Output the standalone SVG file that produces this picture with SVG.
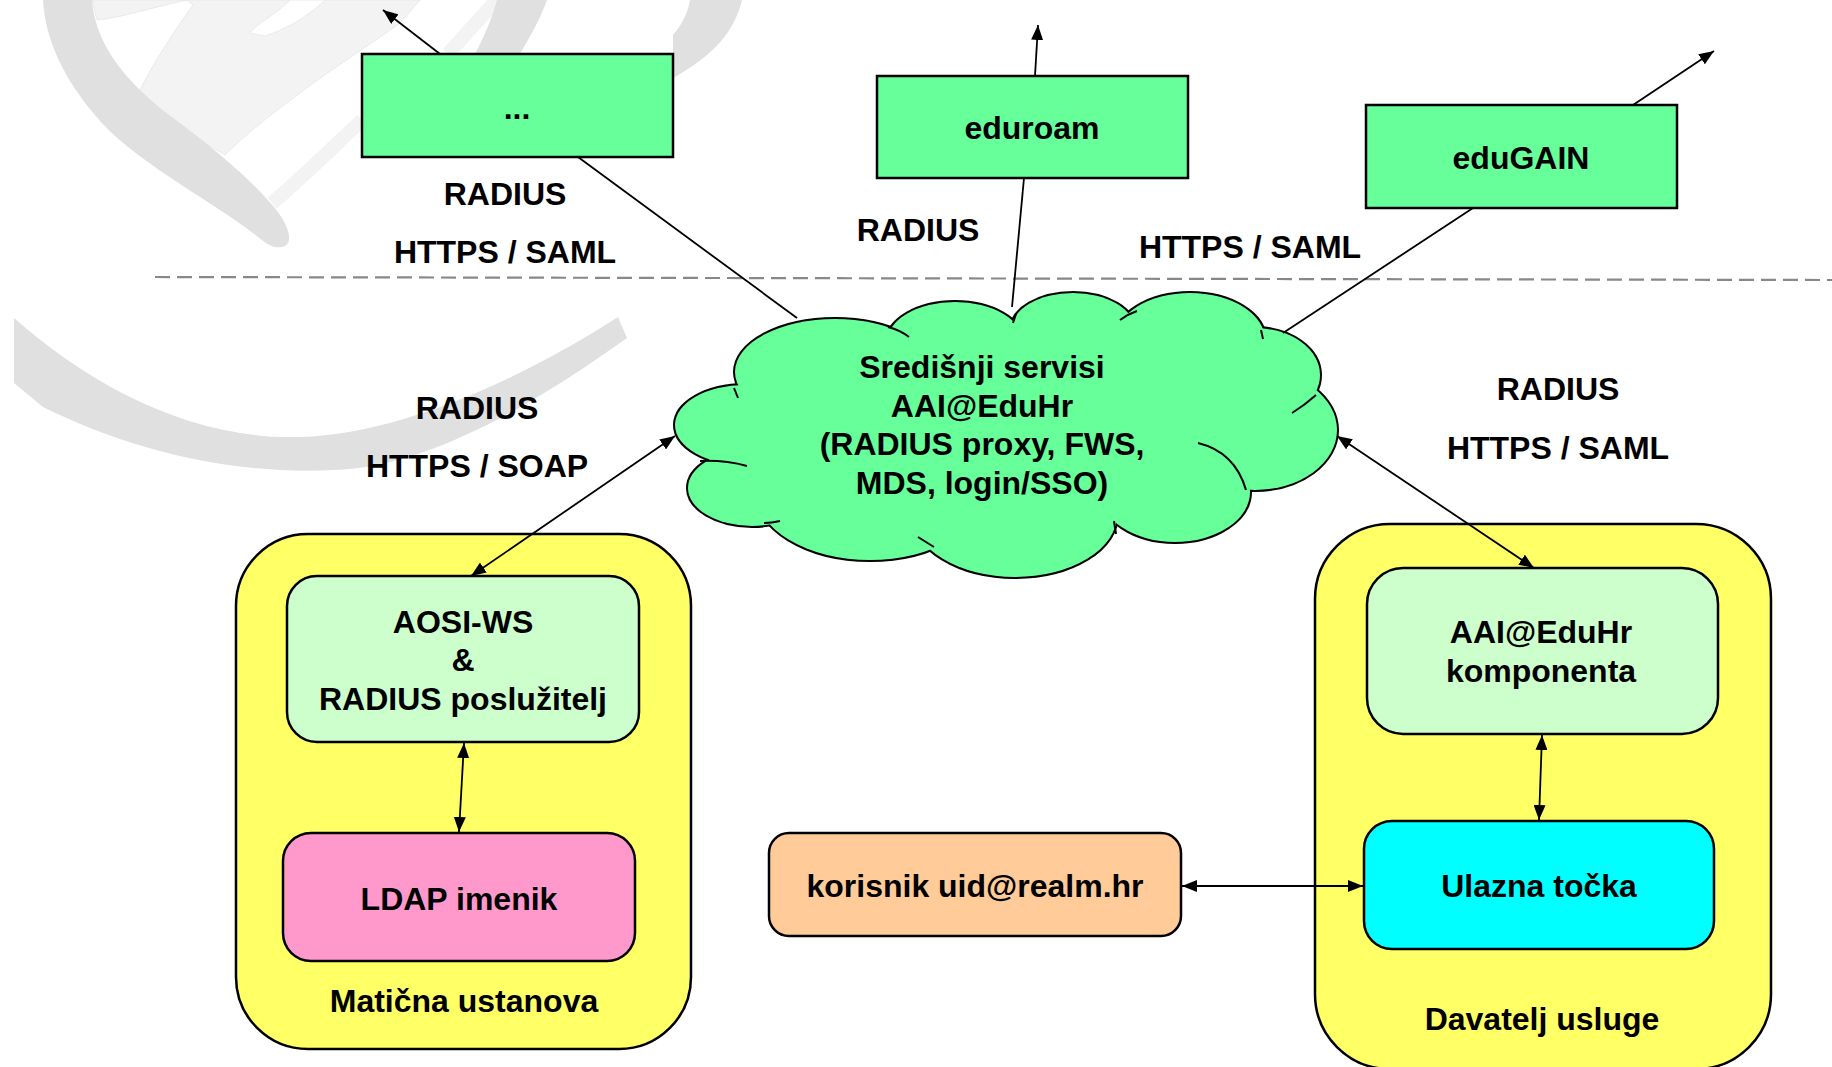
<svg xmlns="http://www.w3.org/2000/svg" width="1832" height="1067" viewBox="0 0 1832 1067">
<defs>
<style>
.t{font-family:"Liberation Sans",Arial,Helvetica,sans-serif;font-weight:bold;font-size:32px;text-anchor:middle;fill:#000}
.box{stroke:#000;stroke-width:2.5}
.conn{stroke:#000;stroke-width:1.8;fill:none}
.wm{fill:#e0e0e0}
.wl{fill:#f3f3f3;stroke:#e6e6e6;stroke-width:0.8}
</style>
<marker id="ah" viewBox="0 0 15 12" refX="15" refY="6" markerWidth="15" markerHeight="12" markerUnits="userSpaceOnUse" orient="auto-start-reverse">
<path d="M0,0 L15,6 L0,12 Z" fill="#000"/>
</marker>
</defs>
<rect width="1832" height="1067" fill="#fff"/>

<g id="watermark">
<path class="wl" d="M92,0 L187,0 C150,8 120,18 97,20 Z"/>
<path class="wl" d="M187,0 L420,0 L400,23 C370,45 330,70 300,93 C270,115 245,135 225,155 L200,140 C175,122 150,105 140,90 C155,60 175,30 193,5 Z"/>
<path d="M250,33 C255,25 275,15 290,0 L325,0 C310,15 285,30 265,36 Z" fill="#fff" stroke="#e6e6e6" stroke-width="0.8"/>
<path d="M272,203 C300,180 330,150 362,120" stroke="#f3f3f3" stroke-width="14" fill="none"/>
<path d="M448,54 C465,35 480,18 497,0" stroke="#f3f3f3" stroke-width="14" fill="none"/>
<path class="wm" d="M43,0 L92,0 C95,40 120,80 180,123 C225,157 262,190 280,215 C290,230 292,242 285,246 C278,249 270,247 262,240 C220,205 130,160 95,115 C65,80 45,40 43,0 Z"/>
<path class="wm" d="M497,0 L547,0 C540,20 528,40 520,54 L475,54 C485,35 492,18 497,0 Z"/>
<path class="wm" d="M690,0 L742,0 C735,30 715,55 673,78 L673,35 C682,25 688,12 690,0 Z"/>
<path class="wm" d="M14,318 C90,385 190,440 300,437 C400,434 520,380 618,317 L627,338 C540,400 430,468 333,470 C230,475 130,450 43,407 L14,383 Z"/>
</g>

<line x1="155" y1="277" x2="1832" y2="280" stroke="#888" stroke-width="2.2" stroke-dasharray="15 7"/>

<g id="labels">
<text class="t" x="505" y="205">RADIUS</text>
<text class="t" x="505" y="263">HTTPS / SAML</text>
<text class="t" x="918" y="241">RADIUS</text>
<text class="t" x="1250" y="258">HTTPS / SAML</text>
<text class="t" x="477" y="419">RADIUS</text>
<text class="t" x="477" y="477">HTTPS / SOAP</text>
<text class="t" x="1558" y="400">RADIUS</text>
<text class="t" x="1558" y="459">HTTPS / SAML</text>
</g>

<g id="node-dots">
<rect class="box" x="362" y="54" width="311" height="103" fill="#66FF99"/>
<text class="t" x="517" y="119">...</text>
</g>
<g id="node-eduroam">
<rect class="box" x="877" y="76" width="311" height="102" fill="#66FF99"/>
<text class="t" x="1032" y="139">eduroam</text>
</g>
<g id="node-edugain">
<rect class="box" x="1366" y="105" width="311" height="103" fill="#66FF99"/>
<text class="t" x="1521" y="169">eduGAIN</text>
</g>

<g id="node-cloud">
<g fill="none" stroke="#000" stroke-width="4">
<ellipse cx="835" cy="372" rx="100" ry="53"/>
<ellipse cx="955" cy="342" rx="68" ry="40"/>
<ellipse cx="1073" cy="330" rx="62" ry="37"/>
<ellipse cx="1190" cy="340" rx="75" ry="47"/>
<ellipse cx="1255" cy="375" rx="65" ry="47"/>
<ellipse cx="1255" cy="430" rx="82" ry="60"/>
<ellipse cx="1175" cy="492" rx="75" ry="50"/>
<ellipse cx="1015" cy="515" rx="102" ry="62"/>
<ellipse cx="870" cy="490" rx="115" ry="70"/>
<ellipse cx="752" cy="488" rx="64" ry="38"/>
<ellipse cx="745" cy="425" rx="70" ry="40"/>
</g>
<g fill="#66FF99">
<ellipse cx="835" cy="372" rx="100" ry="53"/>
<ellipse cx="955" cy="342" rx="68" ry="40"/>
<ellipse cx="1073" cy="330" rx="62" ry="37"/>
<ellipse cx="1190" cy="340" rx="75" ry="47"/>
<ellipse cx="1255" cy="375" rx="65" ry="47"/>
<ellipse cx="1255" cy="430" rx="82" ry="60"/>
<ellipse cx="1175" cy="492" rx="75" ry="50"/>
<ellipse cx="1015" cy="515" rx="102" ry="62"/>
<ellipse cx="870" cy="490" rx="115" ry="70"/>
<ellipse cx="752" cy="488" rx="64" ry="38"/>
<ellipse cx="745" cy="425" rx="70" ry="40"/>
<polygon points="742,392 890,333 1014,324 1129,320 1258,335 1310,395 1243,486 1114,518 934,541 768,518 708,462"/>
</g>
<g fill="none" stroke="#000" stroke-width="2">
<path d="M734,388 Q736,393 738,398"/>
<path d="M888,327 Q900,330 909,337"/>
<path d="M1016,314 L1013,323"/>
<path d="M1120,320 Q1128,314 1137,311"/>
<path d="M1261,330 L1263,339"/>
<path d="M1316,395 Q1305,405 1292,413"/>
<path d="M1198,443 Q1235,452 1246,490"/>
<path d="M1114,521 L1116,534"/>
<path d="M918,537 Q926,542 934,547"/>
<path d="M764,523 Q772,523 780,521"/>
<path d="M700,461 Q725,460 747,466"/>
</g>
<text class="t" x="982" y="378">Središnji servisi</text>
<text class="t" x="982" y="417">AAI@EduHr</text>
<text class="t" x="982" y="455">(RADIUS proxy, FWS,</text>
<text class="t" x="982" y="494">MDS, login/SSO)</text>
</g>

<g id="node-maticna">
<rect class="box" x="236" y="534" width="455" height="515" rx="72" ry="72" fill="#FFFF66"/>
<text class="t" x="464" y="1012">Matična ustanova</text>
</g>
<g id="node-aosi">
<rect class="box" x="287" y="576" width="352" height="166" rx="30" ry="30" fill="#CCFFCC"/>
<text class="t" x="463" y="633">AOSI-WS</text>
<text class="t" x="463" y="671">&amp;</text>
<text class="t" x="463" y="710">RADIUS poslužitelj</text>
</g>
<g id="node-ldap">
<rect class="box" x="283" y="833" width="352" height="128" rx="28" ry="28" fill="#FF99CC"/>
<text class="t" x="459" y="910">LDAP imenik</text>
</g>

<g id="node-davatelj">
<rect class="box" x="1315" y="524" width="456" height="545" rx="75" ry="75" fill="#FFFF66"/>
<text class="t" x="1542" y="1030">Davatelj usluge</text>
</g>
<g id="node-aai">
<rect class="box" x="1367" y="568" width="351" height="166" rx="36" ry="36" fill="#CCFFCC"/>
<text class="t" x="1541" y="643">AAI@EduHr</text>
<text class="t" x="1541" y="682">komponenta</text>
</g>
<g id="node-ulazna">
<rect class="box" x="1364" y="821" width="350" height="128" rx="28" ry="28" fill="#00FFFF"/>
<text class="t" x="1539" y="897">Ulazna točka</text>
</g>
<g id="node-korisnik">
<rect class="box" x="769" y="833" width="412" height="103" rx="20" ry="20" fill="#FFCC99"/>
<text class="t" x="975" y="897">korisnik uid@realm.hr</text>
</g>

<g id="connectors">
<line class="conn" x1="440" y1="54" x2="383" y2="10" marker-end="url(#ah)"/>
<line class="conn" x1="1035" y1="76" x2="1038" y2="25" marker-end="url(#ah)"/>
<line class="conn" x1="1633" y1="105" x2="1714" y2="51" marker-end="url(#ah)"/>
<line class="conn" x1="578" y1="157" x2="797" y2="318"/>
<line class="conn" x1="1024" y1="178" x2="1012" y2="307"/>
<line class="conn" x1="1473" y1="208" x2="1283" y2="333"/>
<line class="conn" x1="471" y1="576" x2="675" y2="436" marker-start="url(#ah)" marker-end="url(#ah)"/>
<line class="conn" x1="1534" y1="568" x2="1337" y2="436" marker-start="url(#ah)" marker-end="url(#ah)"/>
<line class="conn" x1="464" y1="743" x2="459" y2="832" marker-start="url(#ah)" marker-end="url(#ah)"/>
<line class="conn" x1="1542" y1="735" x2="1539" y2="820" marker-start="url(#ah)" marker-end="url(#ah)"/>
<line class="conn" x1="1182" y1="886" x2="1363" y2="886" marker-start="url(#ah)" marker-end="url(#ah)"/>
</g>
</svg>
